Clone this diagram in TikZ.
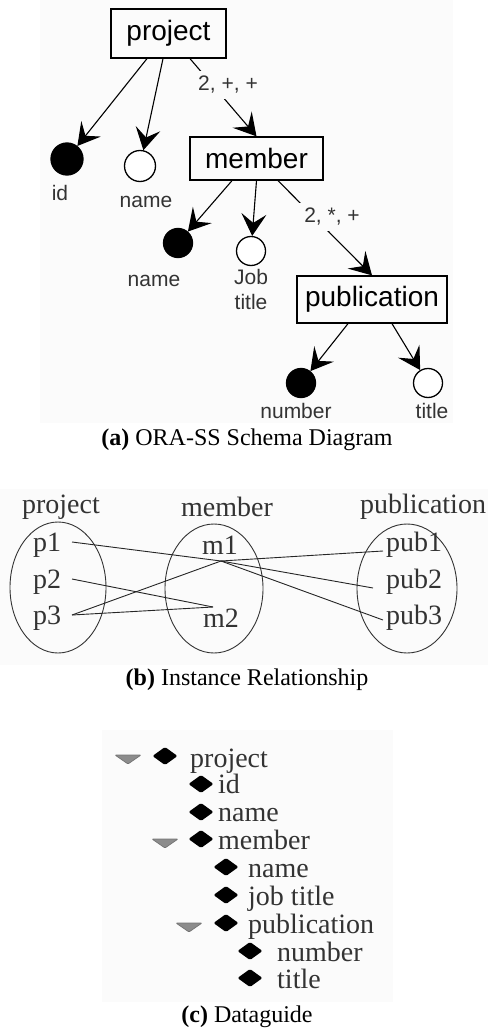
\documentclass[tikz,border=0pt]{standalone}
\usepackage{fontspec}
\setmainfont{Liberation Serif}
\newfontfamily\arialfam{Liberation Sans}
\usetikzlibrary{arrows.meta}

\definecolor{panelbg}{gray}{0.985}
\definecolor{ink}{gray}{0.2}
\definecolor{foldgray}{gray}{0.55}

\newcommand\boxfont{\arialfam\fontsize{28}{30}\selectfont}
\newcommand\attrfont{\arialfam\fontsize{21}{25}\selectfont}
\newcommand\capfont{\fontsize{24}{28}\selectfont}
\newcommand\instfont{\fontsize{28}{30}\selectfont}

\tikzset{
  entity/.style={draw=black, line width=1.3pt, font=\boxfont, inner sep=0pt},
  attr/.style={circle, draw=black, line width=1.3pt, fill=white, inner sep=0pt, minimum size=29pt},
  keyattr/.style={attr, fill=black},
  attrlabel/.style={font=\attrfont, text=ink, inner sep=0pt},
  edge/.style={line width=1.1pt, -{Stealth[length=22pt,width=25pt,inset=9pt]}},
  cardlabel/.style={font=\attrfont, text=ink, fill=panelbg, inner sep=5pt},
  caption/.style={font=\capfont, inner sep=0pt},
  insttext/.style={font=\instfont, text=ink, inner sep=0pt},
  setring/.style={draw=black!80, line width=0.9pt},
  instline/.style={draw=black!85, line width=0.9pt},
  guidetext/.style={font=\instfont, text=ink, inner sep=0pt, anchor=base west},
  keymark/.pic={\fill[black, rounded corners=1.5pt]
                   (-12.5,0) -- (0,-9) -- (12.5,0) -- (0,9) -- cycle;},
  foldmark/.pic={\filldraw[fill=foldgray, draw=black!55, line width=0.7pt, rounded corners=1pt]
                   (-13,-4) -- (13,-4) -- (0,5) -- cycle;}
}

\begin{document}
\begin{tikzpicture}[x=1pt,y=-1pt]
\useasboundingbox (0,0) rectangle (488,1032);
\fill[white] (0,0) rectangle (488,1032);

% ---------- (a) ORA-SS schema diagram ----------
\fill[panelbg] (40,0) rectangle (453,423);

\node[entity, minimum width=115pt, minimum height=49pt] (project) at (168.5,33.5) {project};
\node[entity, minimum width=133pt, minimum height=43pt] (member) at (256.5,158.5) {member};
\node[entity, minimum width=150pt, minimum height=47pt] (publication) at (372,299.5) {publication};

\node[keyattr, minimum size=32pt] (pid) at (67,159) {};
\node[attr, minimum size=31pt] (pname) at (140,166) {};
\node[keyattr] (mname) at (178,243) {};
\node[attr] (mjob) at (251,251) {};
\node[keyattr] (pubnum) at (301,383) {};
\node[attr] (pubtitle) at (428,383) {};

\draw[edge] ([xshift=-21.5pt]project.south) -- (pid);
\draw[edge] ([xshift=-5.5pt]project.south) -- (pname);
\draw[edge] ([xshift=21.5pt]project.south) -- (member.north);
\draw[edge] ([xshift=-24.5pt]member.south) -- (mname);
\draw[edge] (member.south) -- (mjob);
\draw[edge] ([xshift=21.5pt]member.south) -- (publication.north);
\draw[edge] ([xshift=-24pt]publication.south) -- (pubnum);
\draw[edge] ([xshift=20pt]publication.south) -- (pubtitle);

\node[cardlabel] (card1) at (228,85) {2, +, +};
\node[cardlabel] (card2) at (332,217) {2, *, +};

\node[attrlabel] (lid) at (60,193) {id};
\node[attrlabel] (lpname) at (146,202) {name};
\node[attrlabel] (lmname) at (154,281) {name};
\node[attrlabel, align=center] (ljob) at (251,289.5) {Job\\title};
\node[attrlabel] (lnum) at (296,411) {number};
\node[attrlabel] (ltitle) at (432,411) {title};

\node[caption] (capa) at (247,440) {\textbf{(a)} ORA-SS Schema Diagram};

% ---------- (b) instance relationship ----------
\fill[panelbg] (0,489) rectangle (488,665);

\node[insttext] (hproj) at (61,507) {project};
\node[insttext] (hmem) at (227,507) {member};
\node[insttext] (hpub) at (423,507) {publication};

\draw[setring] (58,587.5) ellipse [x radius=48, y radius=65.5];
\draw[setring] (214,588.5) ellipse [x radius=49, y radius=64.5];
\draw[setring] (407,588.5) ellipse [x radius=50, y radius=64.5];

\node[insttext] (p1) at (47,545) {p1};
\node[insttext] (p2) at (47,582) {p2};
\node[insttext] (p3) at (47,618) {p3};
\node[insttext] (m1) at (220,545) {m1};
\node[insttext] (m2) at (221,618) {m2};
\node[insttext] (pub1) at (414,545) {pub1};
\node[insttext] (pub2) at (414,582) {pub2};
\node[insttext] (pub3) at (414,618) {pub3};

\coordinate (p1x) at (72,542);
\coordinate (p2x) at (72,579);
\coordinate (p3x) at (72,615);
\coordinate (m1x) at (221,561);
\coordinate (m2x) at (213,607);
\coordinate (b1x) at (383,551);
\coordinate (b2x) at (373,588);
\coordinate (b3x) at (383,620);

\draw[instline] (p1x) -- (m1x);
\draw[instline] (p2x) -- (m2x);
\draw[instline] (p3x) -- (m1x);
\draw[instline] (p3x) -- (m2x);
\draw[instline] (m1x) -- (b1x);
\draw[instline] (m1x) -- (b2x);
\draw[instline] (m1x) -- (b3x);

\node[caption] (capb) at (247,680) {\textbf{(b)} Instance Relationship};

% ---------- (c) dataguide ----------
\fill[panelbg] (102,730) rectangle (393,1002);

\pic at (128,759) {foldmark};
\pic at (165,843) {foldmark};
\pic at (189,927) {foldmark};

\pic at (165,756) {keymark};
\pic at (201,784) {keymark};
\pic at (201,812) {keymark};
\pic at (201,839) {keymark};
\pic at (226,867) {keymark};
\pic at (226,895) {keymark};
\pic at (226,923) {keymark};
\pic at (250,951) {keymark};
\pic at (250,978) {keymark};

\node[guidetext] (g1) at (190,767) {project};
\node[guidetext] (g2) at (218,793) {id};
\node[guidetext] (g3) at (218,821) {name};
\node[guidetext] (g4) at (218,849) {member};
\node[guidetext] (g5) at (248,877) {name};
\node[guidetext] (g6) at (248,905) {job title};
\node[guidetext] (g7) at (248,933) {publication};
\node[guidetext] (g8) at (277,961) {number};
\node[guidetext] (g9) at (277,988) {title};

\node[caption] (capc) at (247,1017) {\textbf{(c)} Dataguide};
\end{tikzpicture}
\end{document}
